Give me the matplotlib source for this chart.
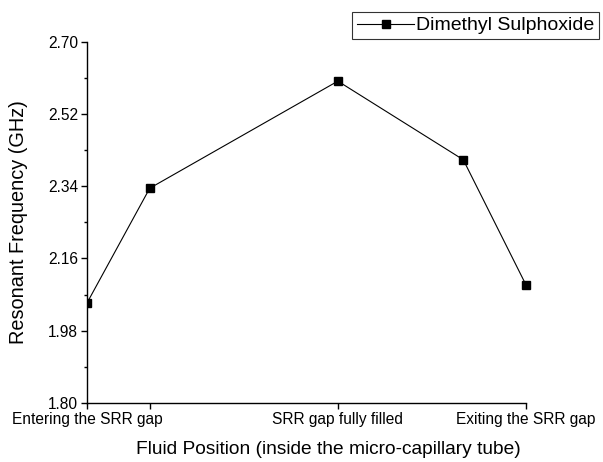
import matplotlib
matplotlib.use("Agg")
import matplotlib.pyplot as plt
from matplotlib.patches import Rectangle

plt.rcParams["font.family"] = ["Liberation Sans", "DejaVu Sans"]

# fluid position along the tube (arbitrary units) and resonant frequency in GHz
position = [0, 1, 4, 6, 7]
frequency = [2.049, 2.335, 2.602, 2.406, 2.094]

tick_pos = [0, 1, 4, 7]
tick_labels = ["Entering the SRR gap", "", "SRR gap fully filled", "Exiting the SRR gap"]
y_ticks = [1.80, 1.98, 2.16, 2.34, 2.52, 2.70]

fig = plt.figure(figsize=(6.03, 4.62), dpi=100)
ax = fig.add_axes([0.1443, 0.128, 0.728, 0.7815])

line, = ax.plot(position, frequency, "-s", color="black", linewidth=0.8,
                markersize=6, label="Dimethyl Sulphoxide")
# clip the left marker at the axis like the original, keep the right one whole
line.set_clip_path(Rectangle((0, -0.05), 1.1, 1.1, transform=ax.transAxes))

ax.set_xlim(0, 7)
ax.set_ylim(1.80, 2.70)
ax.set_xticks(tick_pos)
ax.set_xticklabels(tick_labels)
ax.set_yticks(y_ticks)
ax.set_yticklabels(["%.2f" % v for v in y_ticks])
ax.set_yticks([v + 0.09 for v in y_ticks[:-1]], minor=True)

for side in ["top", "right"]:
    ax.spines[side].set_visible(False)
ax.spines["left"].set_linewidth(1.0)
ax.spines["bottom"].set_linewidth(1.0)
ax.tick_params(axis="both", which="major", direction="out", length=4.5, width=1.0,
               labelsize=11.2, pad=2)
ax.tick_params(axis="y", which="minor", direction="out", length=2.5, width=1.0)

ax.set_xlabel("Fluid Position (inside the micro-capillary tube)", fontsize=13.8)
# the original places the x title a bit right of the axis centre
ax.xaxis.set_label_coords(0.549, -0.105, transform=ax.transAxes)
ax.xaxis.label.set_va("top")
ax.set_ylabel("Resonant Frequency (GHz)", fontsize=14.3, labelpad=14)

leg = fig.legend(handles=[line], loc="upper right", bbox_to_anchor=(0.993, 0.974),
                 bbox_transform=fig.transFigure, fontsize=14, frameon=True,
                 fancybox=False, borderpad=0.25, handlelength=2.9, handletextpad=0.1,
                 borderaxespad=0)
leg.get_frame().set_edgecolor("black")
leg.get_frame().set_linewidth(0.8)

fig.savefig("out.png", dpi=100)
